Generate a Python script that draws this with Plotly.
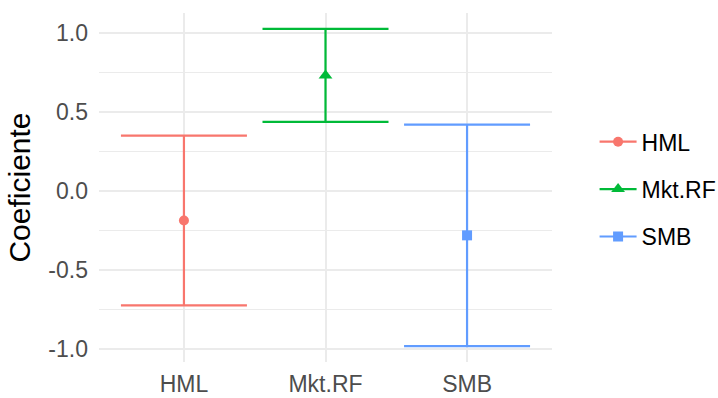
import plotly.graph_objects as go

categories = ["HML", "Mkt.RF", "SMB"]
estimates = [-0.185, 0.734, -0.279]
lower = [-0.722, 0.439, -0.980]
upper = [0.352, 1.028, 0.422]
colors = ["#F8766D", "#00BA38", "#619CFF"]
symbols = ["circle", "triangle-up", "square"]
marker_sizes = [10, 12, 10]
y_ticks = [-1.0, -0.5, 0.0, 0.5, 1.0]
y_tick_labels = ["-1.0", "-0.5", "0.0", "0.5", "1.0"]

fig = go.Figure()
for i, cat in enumerate(categories):
    fig.add_trace(go.Scatter(
        x=[cat], y=[estimates[i]], name=cat, legendgroup=cat,
        mode="lines+markers",
        marker=dict(color=colors[i], symbol=symbols[i], size=marker_sizes[i]),
        line=dict(color=colors[i], width=2.2),
        error_y=dict(type="data", symmetric=False,
                     array=[upper[i] - estimates[i]],
                     arrayminus=[estimates[i] - lower[i]],
                     color=colors[i], thickness=2.2, width=63),
    ))

fig.update_layout(
    width=718, height=398,
    margin=dict(l=99, r=166, t=13, b=36, autoexpand=False),
    plot_bgcolor="white", paper_bgcolor="white",
    font=dict(family="Liberation Sans, Arial, sans-serif"),
    legend=dict(x=1.094, y=0.495, yanchor="middle", xanchor="left", itemwidth=37,
                font=dict(size=23, color="black"), tracegroupgap=14.5),
    xaxis=dict(type="category", categoryorder="array", categoryarray=categories,
               range=[-0.6, 2.6], showgrid=True, gridcolor="#ebebeb", gridwidth=1.5,
               zeroline=False, showline=False, ticks="",
               tickfont=dict(size=23, color="#4d4d4d"), ticklabelstandoff=6,
               automargin=False),
    yaxis=dict(range=[-1.081, 1.129], tickvals=y_ticks, ticktext=y_tick_labels,
               showgrid=True, gridcolor="#ebebeb", gridwidth=1.5,
               minor=dict(tickvals=[-0.75, -0.25, 0.25, 0.75], showgrid=True,
                          gridcolor="#ebebeb", gridwidth=0.8),
               zeroline=False, showline=False, ticks="",
               tickfont=dict(size=23, color="#4d4d4d"), ticklabelstandoff=10,
               automargin=False,
               title=dict(text="Coeficiente", font=dict(size=30, color="black"), standoff=8)),
)

fig.write_html("out.html", config={"displayModeBar": False},
               post_script="document.body.style.margin='0';document.body.style.padding='0';")
